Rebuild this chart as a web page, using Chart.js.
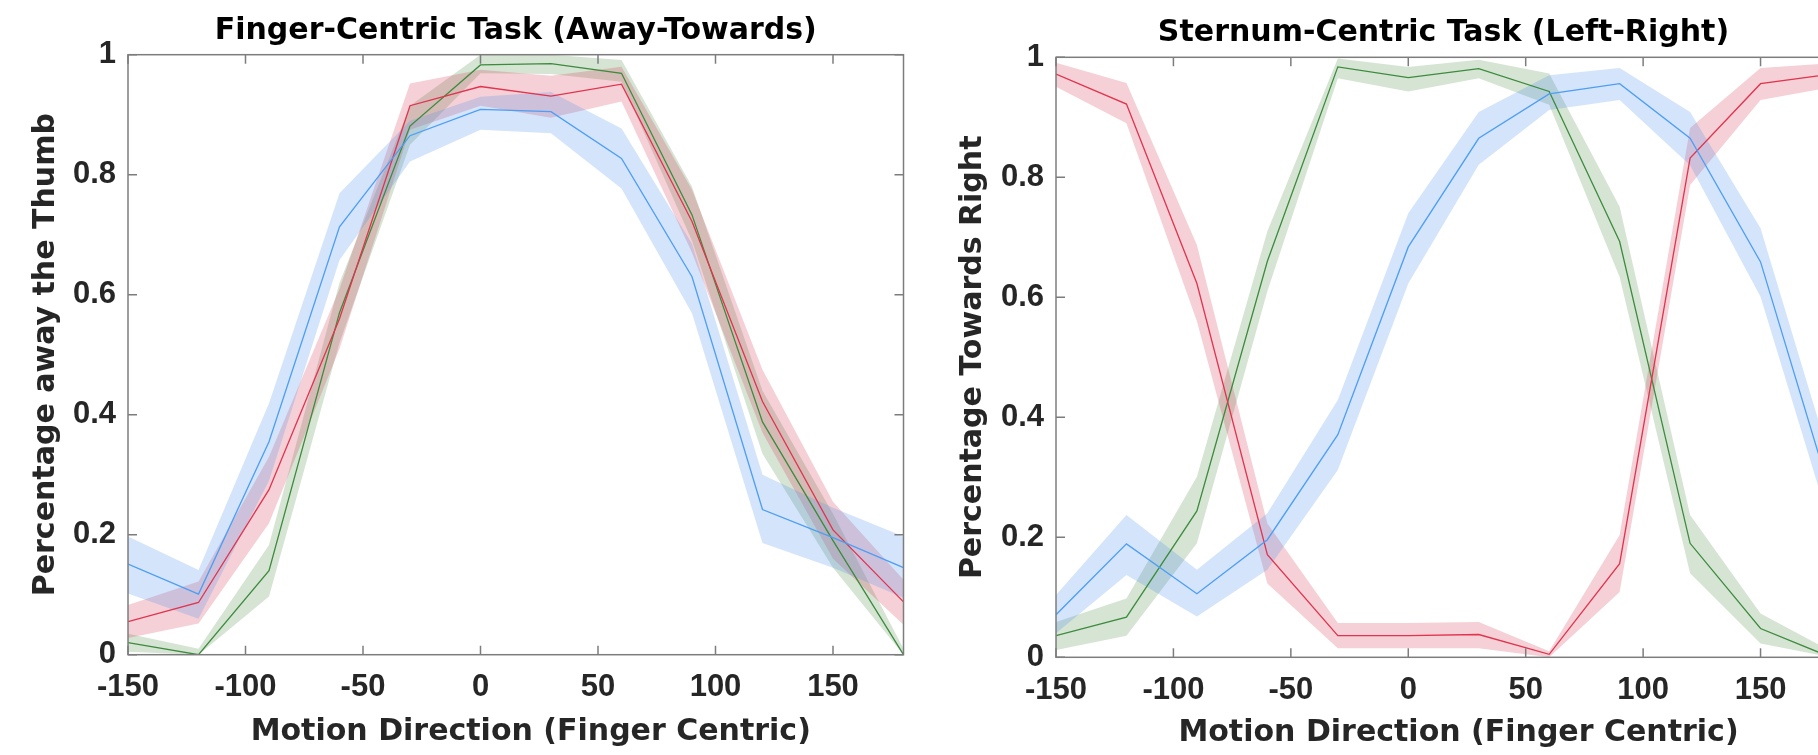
<!DOCTYPE html>
<html lang="en">
<head>
    <meta charset="UTF-8">
    <title>Finger-Centric vs Sternum-Centric Task</title>
    <script src="https://cdn.jsdelivr.net/npm/chart.js"></script>
    <style>
        body {
            margin: 0;
            padding: 0;
            background: #ffffff;
        }

        #figure {
            position: relative;
            width: 1818px;
            height: 755px;
            overflow: hidden;
            background: #ffffff;
        }

        #leftChart {
            position: absolute;
            left: 0;
            top: 0;
        }

        #rightChart {
            position: absolute;
            left: 910px;
            top: 0;
        }
    </style>
</head>
<body>
    <div id="figure">
        <canvas id="leftChart" width="930" height="755"></canvas>
        <canvas id="rightChart" width="1040" height="755"></canvas>
    </div>

    <script>
        // Motion directions (deg) where the curves were sampled
        const xValues = [-150, -120, -90, -60, -30, 0, 30, 60, 90, 120, 150, 180];
        const xTickValues = [-150, -100, -50, 0, 50, 100, 150];
        const yTickValues = [0, 0.2, 0.4, 0.6, 0.8, 1];

        // Finger-Centric Task (Away-Towards)
        const fingerBlue = [0.151, 0.101, 0.355, 0.713, 0.865, 0.909, 0.905, 0.827, 0.630, 0.242, 0.195, 0.145];
        const fingerBlueHi = [0.197, 0.141, 0.419, 0.769, 0.890, 0.930, 0.938, 0.877, 0.685, 0.300, 0.245, 0.197];
        const fingerBlueLo = [0.102, 0.060, 0.290, 0.658, 0.822, 0.875, 0.869, 0.777, 0.569, 0.186, 0.145, 0.095];

        const fingerRed = [0.055, 0.087, 0.275, 0.560, 0.915, 0.947, 0.931, 0.951, 0.722, 0.422, 0.208, 0.088];
        const fingerRedHi = [0.083, 0.122, 0.330, 0.610, 0.952, 0.975, 0.965, 0.980, 0.775, 0.475, 0.255, 0.125];
        const fingerRedLo = [0.028, 0.052, 0.219, 0.510, 0.875, 0.915, 0.895, 0.922, 0.670, 0.370, 0.160, 0.050];

        const fingerGreen = [0.020, 0.000, 0.140, 0.570, 0.881, 0.983, 0.985, 0.969, 0.733, 0.388, 0.190, 0.000];
        const fingerGreenHi = [0.035, 0.010, 0.183, 0.620, 0.915, 1.000, 1.000, 0.991, 0.780, 0.440, 0.235, 0.010];
        const fingerGreenLo = [0.005, 0.000, 0.097, 0.520, 0.850, 0.969, 0.968, 0.955, 0.690, 0.335, 0.145, 0.000];

        // Sternum-Centric Task (Left-Right)
        const sternumBlue = [0.071, 0.189, 0.106, 0.196, 0.371, 0.684, 0.865, 0.939, 0.956, 0.865, 0.659, 0.270];
        const sternumBlueHi = [0.104, 0.237, 0.146, 0.240, 0.429, 0.740, 0.909, 0.970, 0.982, 0.909, 0.715, 0.325];
        const sternumBlueLo = [0.040, 0.137, 0.068, 0.146, 0.312, 0.623, 0.821, 0.912, 0.929, 0.820, 0.601, 0.215];

        const sternumRed = [0.972, 0.922, 0.623, 0.171, 0.036, 0.036, 0.038, 0.005, 0.156, 0.832, 0.956, 0.972];
        const sternumRedHi = [0.991, 0.957, 0.687, 0.223, 0.057, 0.057, 0.059, 0.010, 0.204, 0.882, 0.982, 0.990];
        const sternumRedLo = [0.951, 0.890, 0.560, 0.123, 0.015, 0.015, 0.015, 0.000, 0.109, 0.787, 0.929, 0.950];

        const sternumGreen = [0.036, 0.067, 0.244, 0.660, 0.984, 0.966, 0.981, 0.943, 0.693, 0.190, 0.048, 0.000];
        const sternumGreenHi = [0.059, 0.098, 0.301, 0.710, 0.998, 0.984, 0.996, 0.973, 0.751, 0.237, 0.073, 0.010];
        const sternumGreenLo = [0.012, 0.036, 0.190, 0.610, 0.965, 0.943, 0.965, 0.921, 0.634, 0.140, 0.023, 0.000];

        const BLUE = '#4d9ef5', BLUE_BAND = 'rgba(83, 147, 235, 0.25)';
        const RED = '#e2334f', RED_BAND = 'rgba(215, 67, 91, 0.25)';
        const GREEN = '#3d8b3d', GREEN_BAND = 'rgba(87, 147, 79, 0.25)';
        const AXIS_COLOR = '#7d7d7d';
        const TEXT_COLOR = '#262626';

        const tickFont = { family: "'Liberation Sans', Arial, sans-serif", size: 31, weight: 'bold', lineHeight: 1.2 };
        const titleFont = { family: "'DejaVu Sans', sans-serif", size: 30, weight: 'bold', lineHeight: 1.2 };

        // mean line on top of a shaded band (upper, lower filled in between)
        function seriesDatasets(mean, hi, lo, lineColor, bandColor) {
            const pts = arr => arr.map((v, i) => ({ x: xValues[i], y: v }));
            return [
                { data: pts(hi), borderWidth: 0, borderColor: 'transparent', pointRadius: 0, fill: false, order: 2 },
                { data: pts(lo), borderWidth: 0, borderColor: 'transparent', pointRadius: 0, fill: '-1', backgroundColor: bandColor, order: 2 },
                { data: pts(mean), borderColor: lineColor, borderWidth: 1.3, pointRadius: 0, fill: false, order: 1 }
            ];
        }

        // MATLAB-like box with inward ticks on all four sides
        const boxTicks = {
            id: 'boxTicks',
            afterDraw(chart) {
                const { ctx, chartArea: a, scales: { x, y } } = chart;
                const len = 9;
                ctx.save();
                ctx.strokeStyle = AXIS_COLOR;
                ctx.lineWidth = 1.5;
                ctx.strokeRect(a.left, a.top, a.right - a.left, a.bottom - a.top);
                ctx.beginPath();
                x.ticks.forEach(t => {
                    const px = x.getPixelForValue(t.value);
                    ctx.moveTo(px, a.bottom); ctx.lineTo(px, a.bottom - len);
                    ctx.moveTo(px, a.top); ctx.lineTo(px, a.top + len);
                });
                y.ticks.forEach(t => {
                    const py = y.getPixelForValue(t.value);
                    ctx.moveTo(a.left, py); ctx.lineTo(a.left + len, py);
                    ctx.moveTo(a.right, py); ctx.lineTo(a.right - len, py);
                });
                ctx.stroke();
                ctx.restore();
            }
        };

        function createPanel(canvasId, opts) {
            const ctx = document.getElementById(canvasId).getContext('2d');
            return new Chart(ctx, {
                type: 'line',
                data: {
                    datasets: [
                        ...seriesDatasets(opts.blue, opts.blueHi, opts.blueLo, BLUE, BLUE_BAND),
                        ...seriesDatasets(opts.red, opts.redHi, opts.redLo, RED, RED_BAND),
                        ...seriesDatasets(opts.green, opts.greenHi, opts.greenLo, GREEN, GREEN_BAND)
                    ]
                },
                options: {
                    responsive: false,
                    animation: false,
                    devicePixelRatio: 1,
                    layout: { padding: { left: 0, top: 0, right: opts.padRight, bottom: 0 } },
                    plugins: {
                        legend: { display: false },
                        tooltip: { enabled: false },
                        title: {
                            display: true,
                            text: opts.title,
                            color: '#000000',
                            font: titleFont,
                            fullSize: false,
                            padding: { top: opts.titleTop, bottom: opts.titleBottom }
                        }
                    },
                    scales: {
                        x: {
                            type: 'linear',
                            min: -150,
                            max: 180,
                            grid: { display: false, drawTicks: false },
                            border: { display: false },
                            afterBuildTicks: s => { s.ticks = xTickValues.map(v => ({ value: v })); },
                            afterFit: s => { s.height = opts.xHeight; },
                            ticks: {
                                color: TEXT_COLOR,
                                font: tickFont,
                                padding: opts.xTickPad,
                                maxRotation: 0,
                                callback: v => String(v)
                            },
                            title: {
                                display: true,
                                // em space: the label sits a little right of the axes centre
                                text: '\u2003Motion Direction (Finger Centric)',
                                color: TEXT_COLOR,
                                font: titleFont,
                                padding: { top: 0, bottom: opts.xTitleBottom }
                            }
                        },
                        y: {
                            type: 'linear',
                            min: 0,
                            max: 1,
                            grid: { display: false, drawTicks: false },
                            border: { display: false },
                            afterBuildTicks: s => { s.ticks = yTickValues.map(v => ({ value: v })); },
                            afterFit: s => { s.width = opts.yWidth; },
                            ticks: {
                                color: TEXT_COLOR,
                                font: tickFont,
                                padding: opts.yTickPad,
                                callback: v => (v === 0 || v === 1) ? String(v) : v.toFixed(1)
                            },
                            title: {
                                display: true,
                                text: opts.yTitle,
                                color: TEXT_COLOR,
                                font: titleFont,
                                padding: { top: opts.yTitleTop, bottom: 0 }
                            }
                        }
                    }
                },
                plugins: [boxTicks]
            });
        }

        createPanel('leftChart', {
            title: 'Finger-Centric Task (Away-Towards)',
            yTitle: 'Percentage away the Thumb',
            blue: fingerBlue, blueHi: fingerBlueHi, blueLo: fingerBlueLo,
            red: fingerRed, redHi: fingerRedHi, redLo: fingerRedLo,
            green: fingerGreen, greenHi: fingerGreenHi, greenLo: fingerGreenLo,
            padRight: 26.5,
            titleTop: 13.4,
            titleBottom: 5.3,
            xHeight: 100.3,
            xTickPad: 14.5,
            xTitleBottom: 5,
            yWidth: 128,
            yTickPad: 12,
            yTitleTop: 28
        });

        createPanel('rightChart', {
            title: 'Sternum-Centric Task (Left-Right)',
            yTitle: 'Percentage Towards Right',
            blue: sternumBlue, blueHi: sternumBlueHi, blueLo: sternumBlueLo,
            red: sternumRed, redHi: sternumRedHi, redLo: sternumRedLo,
            green: sternumGreen, greenHi: sternumGreenHi, greenLo: sternumGreenLo,
            padRight: 119,
            titleTop: 14.9,
            titleBottom: 6.4,
            xHeight: 97.7,
            xTickPad: 14.6,
            xTitleBottom: 4,
            yWidth: 146,
            yTickPad: 12,
            yTitleTop: 45
        });
    </script>
</body>
</html>
